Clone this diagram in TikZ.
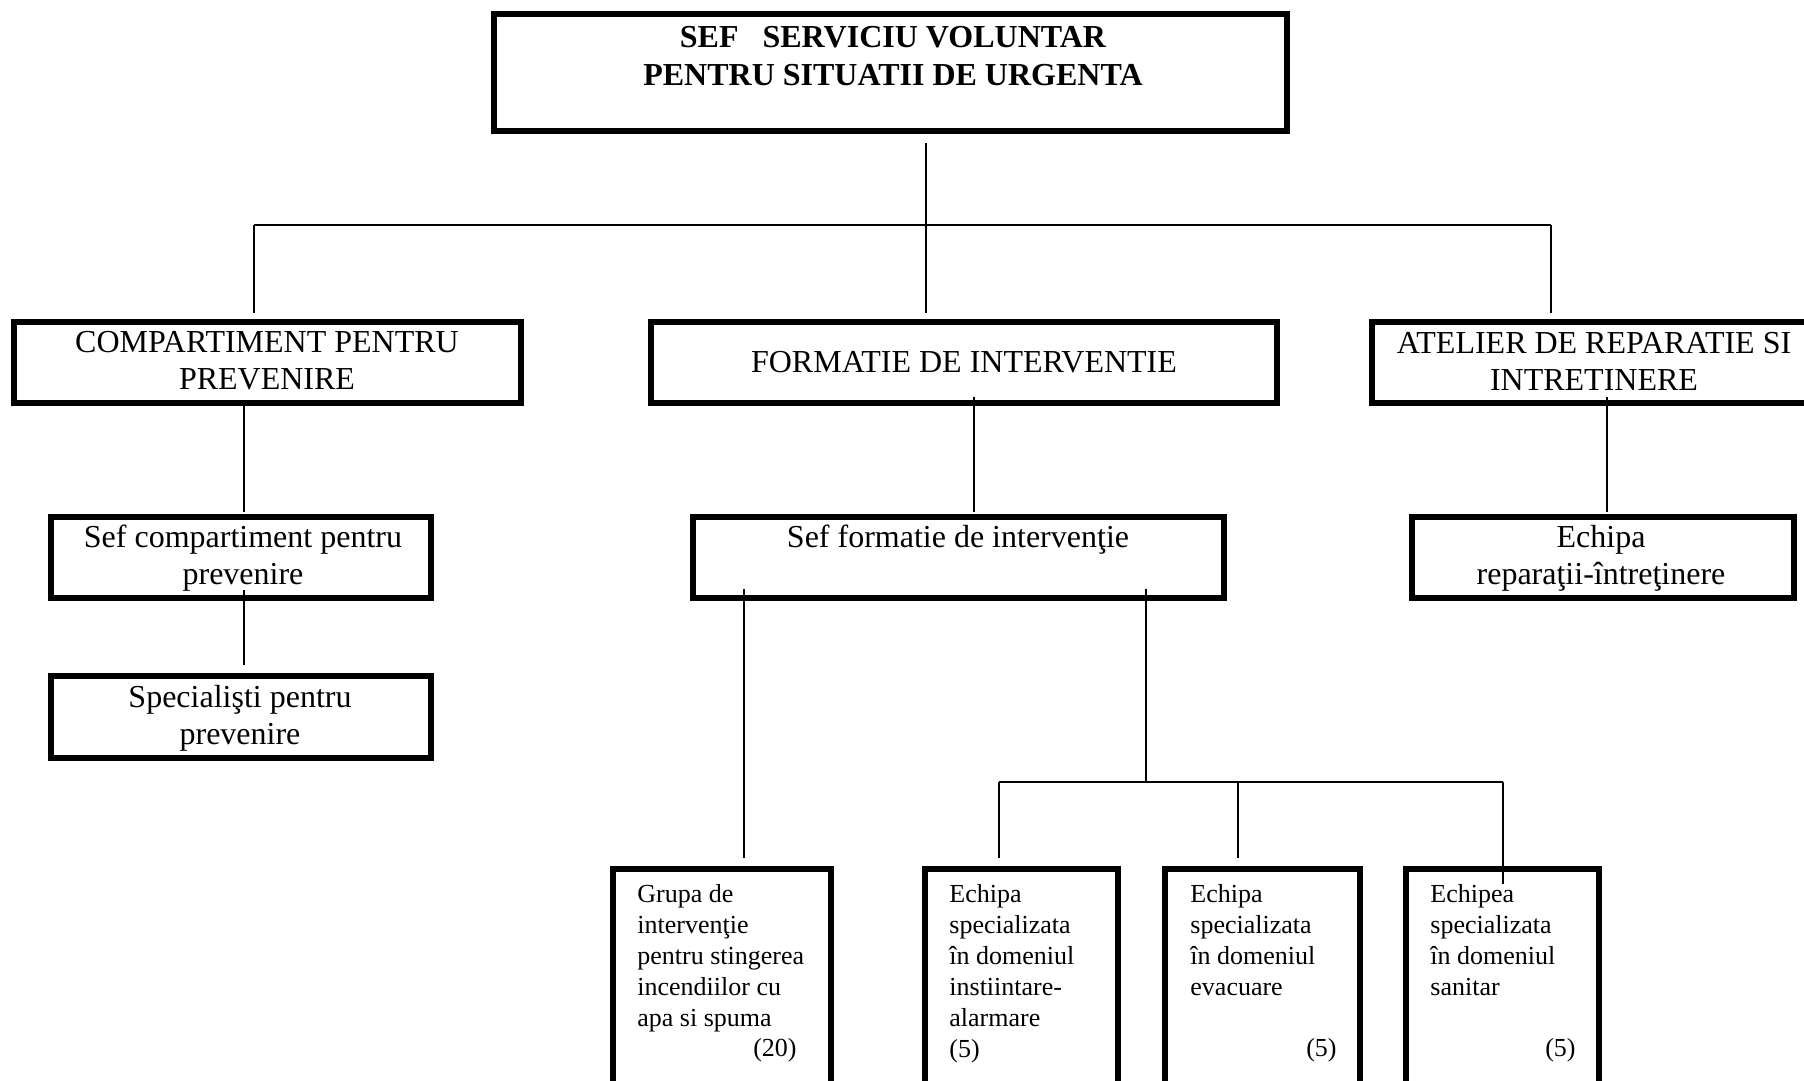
\documentclass[tikz,border=0pt]{standalone}
\usepackage{fontspec}
\setmainfont{Liberation Serif}
\usetikzlibrary{fit,calc}
\tikzset{
  box/.style={draw, line width=3pt, inner sep=0pt, outer sep=0pt},
  conn/.style={line width=0.8pt},
  big/.style={font=\fontsize{16}{18.5}\selectfont, align=center, inner sep=0pt},
  bigb/.style={font=\fontsize{16}{19}\selectfont\bfseries, align=center, inner sep=0pt},
  small/.style={font=\fontsize{13}{15.5}\selectfont, align=left, inner sep=0pt, anchor=north west},
  num/.style={font=\fontsize{13}{15.5}\selectfont, inner sep=0pt, anchor=east}
}
\begin{document}
\begin{tikzpicture}[x=0.5pt,y=-0.5pt]
\useasboundingbox (0,0) rectangle (1804,1081);
% boxes
\node[box, fit={(494,14)(1287,131)}] (top) {};
\node[box, fit={(14,322)(521,403)}] (comp) {};
\node[box, fit={(651,322)(1277,403)}] (form) {};
\node[box, fit={(1372,322)(1830,403)}] (atel) {};
\node[box, fit={(51,517)(431,598)}] (sefc) {};
\node[box, fit={(693,517)(1224,598)}] (seff) {};
\node[box, fit={(1412,517)(1794,598)}] (echr) {};
\node[box, fit={(51,676)(431,758)}] (spec) {};
\node[box, fit={(613,869)(831,1110)}] (grupa) {};
\node[box, fit={(925,869)(1118,1110)}] (inst) {};
\node[box, fit={(1165,869)(1360,1110)}] (evac) {};
\node[box, fit={(1406,869)(1599,1110)}] (san) {};
% texts
\node[bigb] (t-top) at (893,56) {SEF\ \ \ SERVICIU VOLUNTAR\\PENTRU SITUATII DE URGENTA};
\node[big] (t-comp) at (267,361) {COMPARTIMENT PENTRU\\PREVENIRE};
\node[big] (t-form) at (964,362) {FORMATIE DE INTERVENTIE};
\node[big] (t-atel) at (1594,361) {ATELIER DE REPARATIE SI\\INTRETINERE};
\node[big] (t-sefc) at (243,558) {Sef compartiment pentru\\prevenire};
\node[big] (t-seff) at (958,540) {Sef formatie de intervenţie};
\node[big] (t-echr) at (1601,558) {Echipa\\reparaţii-întreţinere};
\node[big] (t-spec) at (240,718) {Specialişti pentru\\prevenire};
\node[small] (t-grupa) at (637,884) {Grupa de\\intervenţie\\pentru stingerea\\incendiilor cu\\apa si spuma};
\node[num] (n-grupa) at (797,1050) {(20)};
\node[small] (t-inst) at (949,884) {Echipa\\specializata\\în domeniul\\instiintare-\\alarmare\\(5)};
\node[small] (t-evac) at (1190,884) {Echipa\\specializata\\în domeniul\\evacuare};
\node[num] (n-evac) at (1337,1050) {(5)};
\node[small] (t-san) at (1430,884) {Echipea\\specializata\\în domeniul\\sanitar};
\node[num] (n-san) at (1576,1050) {(5)};
% junction coordinates
\coordinate (jA) at (926,225);
\coordinate (jL) at (254,225);
\coordinate (jR) at (1551,225);
\coordinate (cC) at (244,0);
\coordinate (cF) at (974,0);
\coordinate (cA) at (1607,0);
\coordinate (cG) at (744,0);
\coordinate (jB) at (1146,782);
\coordinate (jI) at (999,782);
\coordinate (jE) at (1238,782);
\coordinate (jS) at (1503,782);
% connectors
\draw[conn] ([yshift=-6pt]top.south -| jA) -- ([yshift=4.5pt]form.north -| jA);
\draw[conn] (jL) -- (jR);
\draw[conn] (jL) -- ([yshift=4.5pt]comp.north -| jL);
\draw[conn] (jR) -- ([yshift=4.5pt]atel.north -| jR);
\draw[conn] (comp.south -| cC) -- ([yshift=2.5pt]sefc.north -| cC);
\draw[conn] ([yshift=3pt]form.south -| cF) -- ([yshift=2.5pt]seff.north -| cF);
\draw[conn] ([yshift=3pt]atel.south -| cA) -- ([yshift=2.5pt]echr.north -| cA);
\draw[conn] ([yshift=4pt]sefc.south -| cC) -- ([yshift=5.5pt]spec.north -| cC);
\draw[conn] ([yshift=4.5pt]seff.south -| cG) -- ([yshift=5.5pt]grupa.north -| cG);
\draw[conn] ([yshift=4.5pt]seff.south -| jB) -- (jB);
\draw[conn] (jI) -- (jS);
\draw[conn] (jI) -- ([yshift=5.5pt]inst.north -| jI);
\draw[conn] (jE) -- ([yshift=5.5pt]evac.north -| jE);
\draw[conn] (jS) -- ([yshift=-7.5pt]san.north -| jS);
\end{tikzpicture}
\end{document}
